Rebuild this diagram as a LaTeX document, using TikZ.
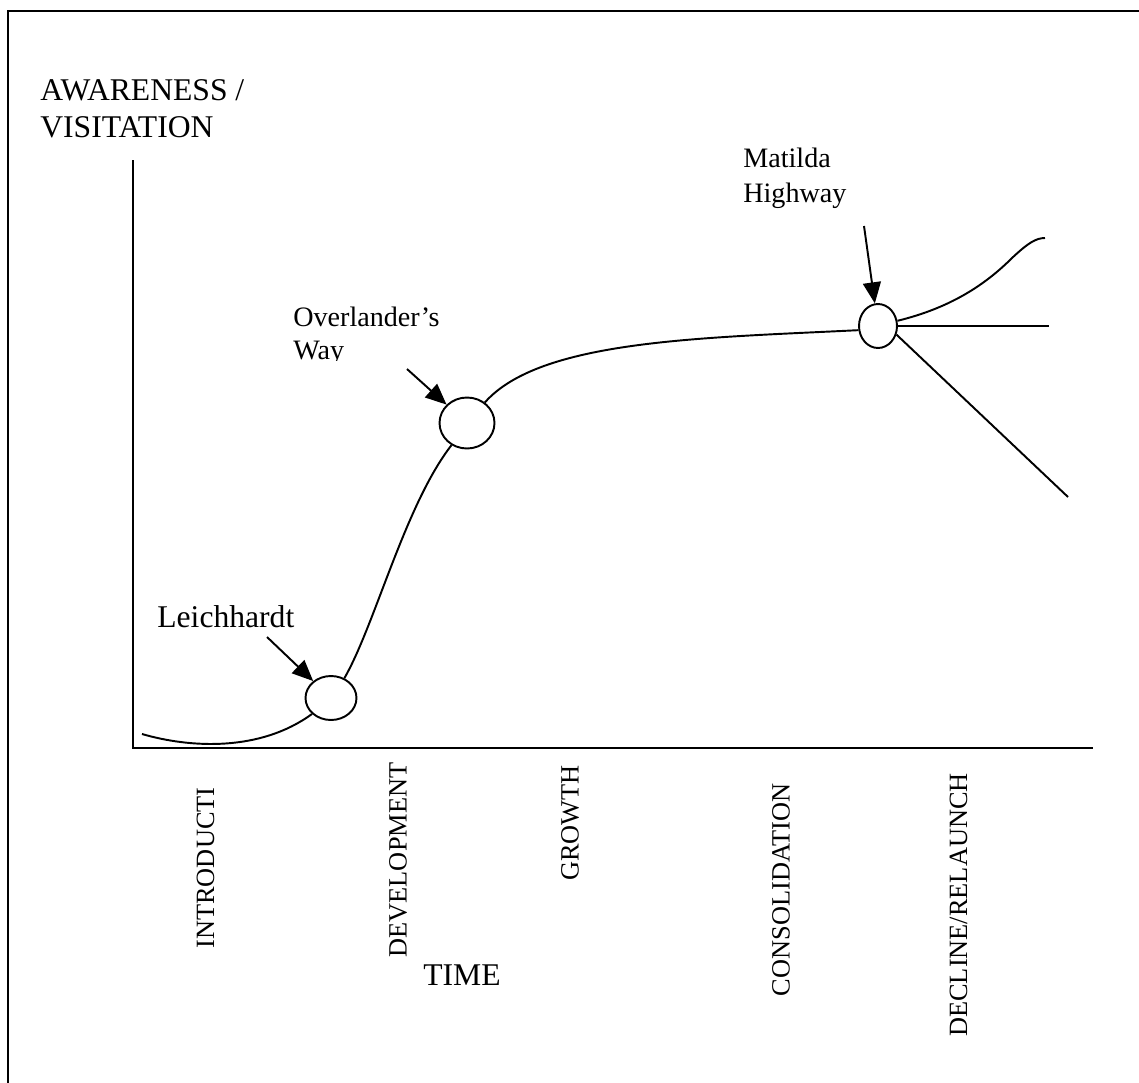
\documentclass[tikz,border=0pt]{standalone}
\usepackage{fontspec}
\setmainfont{Liberation Serif}
\usetikzlibrary{arrows.meta, shapes.geometric}

\begin{document}
\begin{tikzpicture}[x=0.02cm, y=-0.02cm,
    curve/.style={line width=1.1pt},
    ring/.style={ellipse, draw, line width=1.1pt, fill=white, inner sep=0pt},
    pointer/.style={line width=1.1pt, -{Triangle[length=0.42cm, width=0.36cm]}},
    stage/.style={rotate=90, inner sep=0pt, font=\fontsize{15}{18}\selectfont},
    bigtext/.style={inner sep=0pt, font=\fontsize{18}{21}\selectfont},
    smalltext/.style={inner sep=0pt, align=left}]
  % cadre
  \useasboundingbox (0,0) rectangle (1139,1082);
  \clip (0,0) rectangle (1139,1082);
  \draw[line width=1.4pt] (8,11) rectangle (1160,1100);
  % axes
  \draw[line width=1.3pt] (133,160) -- (133,748) -- (1093,748);
  % ellipses
  \node[ring, minimum width=1.02cm, minimum height=0.88cm] (leich) at (331,698) {};
  \node[ring, minimum width=1.1cm, minimum height=1.02cm] (over) at (467,423) {};
  \node[ring, minimum width=0.76cm, minimum height=0.88cm] (matilda) at (878,326) {};
  % courbe
  \coordinate (start) at (142,734);
  \draw[curve] (start) .. controls (190,748) and (260,752) .. (leich.220);
  \draw[curve] (leich.56) .. controls (375,625) and (405,505) .. (over.235);
  \draw[curve] (over.49) .. controls (540,340) and (700,338) .. (matilda.192);
  % trois issues
  \coordinate (rise) at (1045,238);
  \coordinate (flat) at (1049,326);
  \coordinate (fall) at (1068,497);
  \draw[curve] (matilda.15) .. controls (950,308) and (985,285) .. (1012,258)
      .. controls (1028,243) and (1036,238) .. (rise);
  \draw[curve] (matilda.east) -- (flat);
  \draw[curve] (matilda.335) -- (fall);
  % textes
  \node[bigtext, anchor=base west, align=left] (yaxis) at (40,137) {AWARENESS /\\VISITATION};
  \node[bigtext, anchor=base west] (leichtxt) at (157,627) {Leichhardt};
  \node[bigtext, anchor=base] (time) at (462,985) {TIME};
  \node[smalltext, anchor=base west, font=\fontsize{16}{19.8}\selectfont] (matildatxt)
      at (743,202) {Matilda\\Highway};
  \begin{scope}
    \clip (280,290) rectangle (470,360.5);
    \node[smalltext, anchor=base west, font=\fontsize{16}{18.7}\selectfont] (overtxt)
        at (293,359) {Overlander's\\Way};
  \end{scope}
  % fleches
  \coordinate (leichtail) at (267,637);
  \coordinate (overtail) at (407,369);
  \coordinate (matildatail) at (864,226);
  \draw[pointer] (leichtail) -- (leich);
  \draw[pointer] (overtail) -- (over);
  \draw[pointer] (matildatail) -- (matilda);
  % phases
  \node[stage] (intro) at (205.5,868) {INTRODUCTI};
  \node[stage] (devel) at (398,860) {DEVELOPMENT};
  \node[stage] (growth) at (570,823) {GROWTH};
  \node[stage] (consol) at (781,890) {CONSOLIDATION};
  \node[stage] (decline) at (958.5,905) {DECLINE/RELAUNCH};
\end{tikzpicture}
\end{document}
